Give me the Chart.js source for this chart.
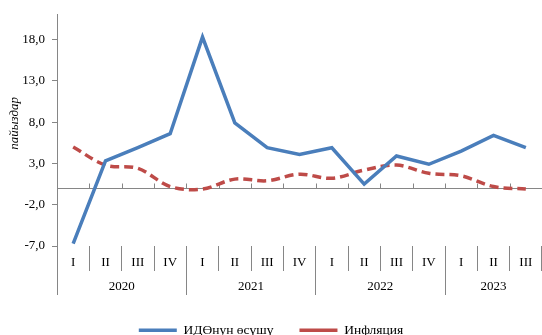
<!DOCTYPE html>
<html>
<head>
<meta charset="utf-8">
<script src="https://cdn.jsdelivr.net/npm/chart.js@4/dist/chart.umd.min.js"></script>
<style>
  html, body { margin: 0; padding: 0; background: #ffffff; }
  #wrap { width: 542px; height: 335px; position: relative; }
</style>
</head>
<body>
<div id="wrap"><canvas id="chart"></canvas></div>
<script>
// Quarterly categories, grouped by year
const quarters = ['I', 'II', 'III', 'IV', 'I', 'II', 'III', 'IV', 'I', 'II', 'III', 'IV', 'I', 'II', 'III'];
const years = ['2020', '2021', '2022', '2023'];
const quartersPerYear = [4, 4, 4, 3];

// Series, per cent
const gdpGrowth = [-6.7, 3.3, 4.9, 6.6, 18.3, 7.9, 4.9, 4.1, 4.9, 0.5, 3.9, 2.9, 4.5, 6.4, 4.9];
const inflation = [5.0, 2.8, 2.4, 0.2, -0.1, 1.1, 0.9, 1.7, 1.2, 2.2, 2.8, 1.8, 1.5, 0.2, -0.1];

// Value axis ticks
const yTicks = [-7, -2, 3, 8, 13, 18];

const seriesNames = ['ИДӨнун өсүшү', 'Инфляция'];
const yAxisTitle = 'пайыздар';

const FONT = "'Liberation Serif', 'Times New Roman', serif";
const AXIS_GREY = '#868686';
const CLEAR = 'rgba(0,0,0,0)';

// Year group boundaries and centres on the quarter index scale
const yearBounds = [];
const yearCentres = {};
let start = 0;
quartersPerYear.forEach((n, k) => {
  yearBounds.push(start - 0.5);
  yearCentres[start + (n - 1) / 2] = years[k];
  start += n;
});
const yearTickValues = yearBounds.concat(Object.keys(yearCentres).map(Number)).sort((a, b) => a - b);

// Small upward tick marks on the zero line between quarters, and the rotated y title
const extras = {
  id: 'extras',
  beforeDatasetsDraw(chart) {
    const x = chart.scales.x, y = chart.scales.y, ctx = chart.ctx;
    const zeroY = Math.round(y.getPixelForValue(0)) + 0.5;
    ctx.save();
    ctx.strokeStyle = AXIS_GREY;
    ctx.lineWidth = 1;
    ctx.beginPath();
    for (let i = 1; i < quarters.length; i++) {
      const px = Math.round((x.getPixelForValue(i - 1) + x.getPixelForValue(i)) / 2) + 0.5;
      ctx.moveTo(px, zeroY - 5);
      ctx.lineTo(px, zeroY);
    }
    ctx.stroke();
    ctx.restore();
  },
  afterDraw(chart) {
    const a = chart.chartArea, ctx = chart.ctx;
    ctx.save();
    ctx.translate(a.left - 42, (a.top + a.bottom) / 2 - 7);
    ctx.rotate(-Math.PI / 2);
    ctx.font = 'italic 13px ' + FONT;
    ctx.fillStyle = '#000000';
    ctx.textAlign = 'center';
    ctx.textBaseline = 'middle';
    ctx.fillText(yAxisTitle, 0, 0);
    ctx.restore();
  }
};

new Chart(document.getElementById('chart'), {
  type: 'line',
  data: {
    labels: quarters,
    datasets: [
      {
        label: seriesNames[0],
        data: gdpGrowth,
        borderColor: '#4A7EBB',
        backgroundColor: '#4A7EBB',
        borderWidth: 3.5,
        pointRadius: 0,
        tension: 0
      },
      {
        label: seriesNames[1],
        data: inflation,
        borderColor: '#BE4B48',
        backgroundColor: '#BE4B48',
        borderWidth: 3.5,
        borderDash: [9, 5],
        pointRadius: 0,
        tension: 0.35
      }
    ]
  },
  options: {
    responsive: true,
    maintainAspectRatio: false,
    animation: false,
    layout: { padding: { top: 10, left: 0, right: 0, bottom: 0 } },
    plugins: {
      tooltip: { enabled: false },
      legend: {
        position: 'bottom',
        maxHeight: 37.5,
        labels: {
          usePointStyle: true,
          pointStyle: 'line',
          pointStyleWidth: 38,
          padding: 26,
          color: '#000000',
          font: { family: FONT, size: 13.5 }
        }
      }
    },
    scales: {
      y: {
        min: -7,
        max: 21,
        afterBuildTicks(scale) {
          scale.ticks = yTicks.concat([0]).sort((a, b) => a - b).map(v => ({ value: v }));
        },
        afterFit(scale) { scale.width = 57; },
        ticks: {
          padding: 7,
          color: '#000000',
          font: { family: FONT, size: 13 },
          callback: v => (v === 0 ? '' : v.toFixed(1).replace('.', ','))
        },
        grid: {
          drawOnChartArea: true,
          tickLength: 5,
          lineWidth: 1,
          color: ctx => (ctx.tick && ctx.tick.value === 0 ? AXIS_GREY : CLEAR),
          tickColor: ctx => (ctx.tick && ctx.tick.value === 0 ? CLEAR : AXIS_GREY)
        },
        border: { display: true, color: AXIS_GREY, width: 1 }
      },
      x: {
        type: 'category',
        position: 'bottom',
        offset: true,
        weight: 0,
        afterFit(scale) { scale.height = 25; },
        ticks: {
          autoSkip: false,
          maxRotation: 0,
          padding: -16,
          color: '#000000',
          font: { family: FONT, size: 13 }
        },
        grid: {
          offset: true,
          drawOnChartArea: false,
          drawTicks: true,
          tickLength: 25,
          lineWidth: 1,
          color: ctx => (ctx.index >= quarters.length ? CLEAR : AXIS_GREY)
        },
        border: { display: false }
      },
      yr: {
        type: 'linear',
        axis: 'x',
        position: 'bottom',
        weight: 1,
        min: -0.5,
        max: quarters.length - 0.5,
        afterBuildTicks(scale) {
          scale.ticks = yearTickValues.map(v => ({ value: v }));
        },
        afterFit(scale) { scale.height = 26.5; },
        ticks: {
          autoSkip: false,
          maxRotation: 0,
          padding: -15.8,
          color: '#000000',
          font: { family: FONT, size: 13 },
          callback: v => (yearCentres[v] !== undefined ? yearCentres[v] : '')
        },
        grid: {
          drawOnChartArea: false,
          drawTicks: true,
          tickLength: 24,
          lineWidth: 1,
          color: ctx => (ctx.tick && yearBounds.includes(ctx.tick.value) ? AXIS_GREY : CLEAR)
        },
        border: { display: false }
      }
    }
  },
  plugins: [extras]
});
</script>
</body>
</html>
